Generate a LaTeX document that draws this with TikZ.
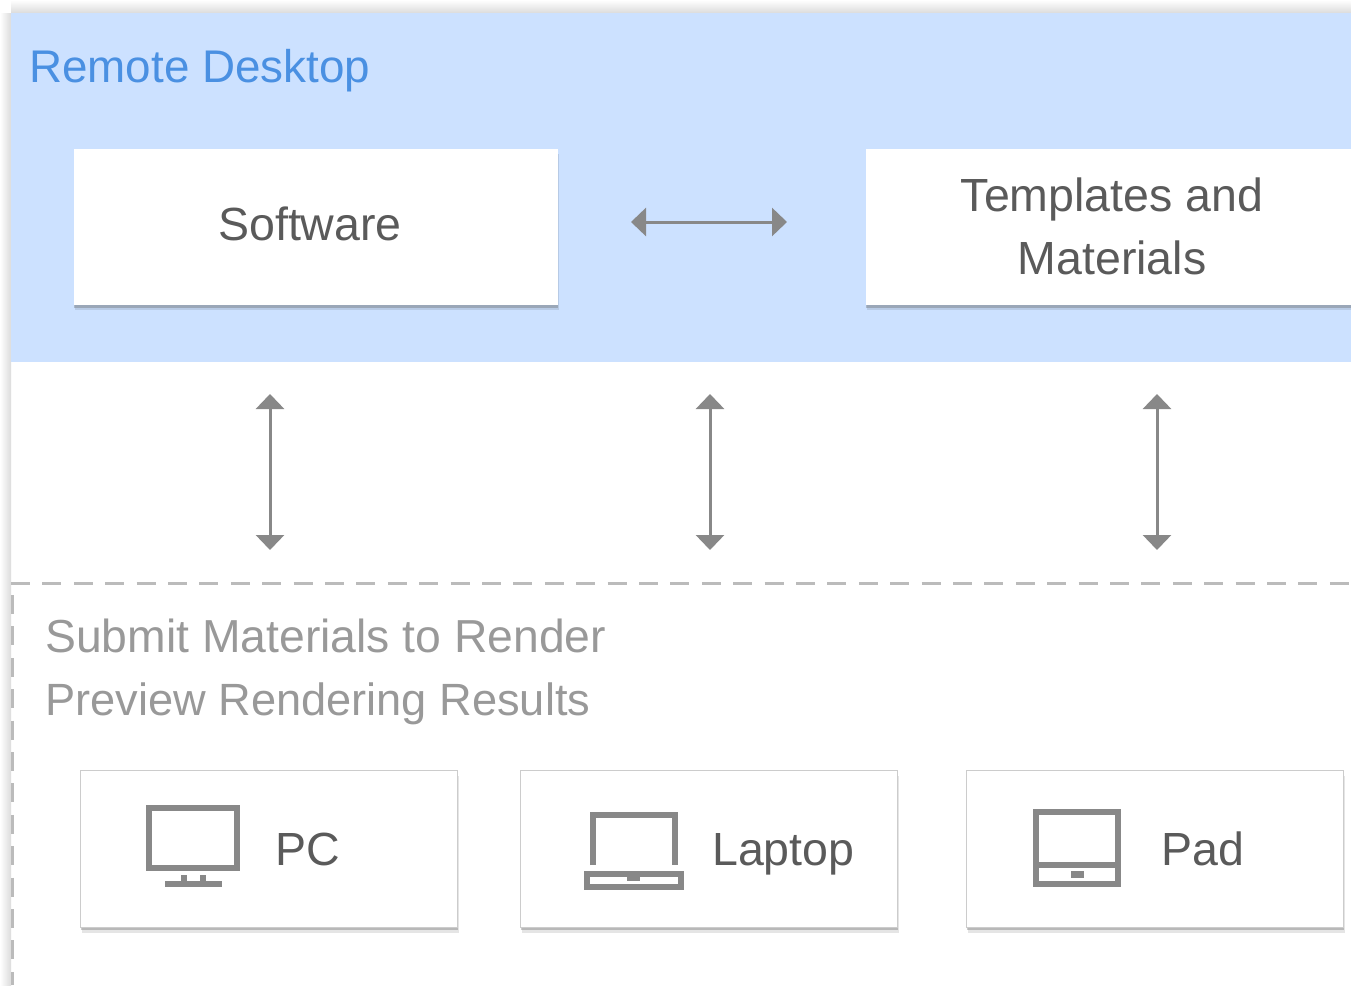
\documentclass[tikz,border=0pt]{standalone}
\usepackage{fontspec}
\setmainfont{Liberation Sans}
\usetikzlibrary{arrows.meta,shadows}
\definecolor{panelblue}{HTML}{CCE1FF}
\definecolor{titleblue}{HTML}{4A90E2}
\definecolor{arrowgray}{HTML}{888888}
\definecolor{dashgray}{HTML}{BBBBBB}
\definecolor{textgray}{HTML}{5A5A5A}
\definecolor{notegray}{HTML}{999999}
\tikzset{
	softshadow/.style={drop shadow={shadow xshift=1pt,shadow yshift=-5pt,opacity=.10,fill=black},drop shadow={shadow xshift=0pt,shadow yshift=-2.5pt,opacity=#1,fill=black!60}},
	bigbox/.style={fill=white,inner sep=0pt,outer sep=0pt,minimum height=156pt,softshadow=.35},
	devbox/.style={draw=black!20,line width=1pt,fill=white,inner sep=0pt,outer sep=0pt,minimum width=377pt,minimum height=157pt,softshadow=.35},
	boxtext/.style={text=textgray,font=\fontsize{46.5}{63}\selectfont,align=center,inner sep=0pt},
	notetext/.style={text=notegray,anchor=base west,inner sep=0pt},
	linkarrow/.style={draw=arrowgray,fill=arrowgray,line width=3pt,{Triangle[width=28pt,length=15pt]}-{Triangle[width=28pt,length=15pt]}},
	dashline/.style={draw=dashgray,line width=3pt,dash pattern=on 19pt off 12.4pt},
	iconline/.style={draw=arrowgray,line width=6pt,fill=none},
	iconfill/.style={fill=arrowgray,draw=none}
}
\begin{document}
\begin{tikzpicture}[x=1pt,y=-1pt]
	\useasboundingbox (0,0) rectangle (1351,985);
	% soft edge of the page
	\shade[left color=white,right color=black!14] (0,13) rectangle (11,985);
	\shade[top color=white,bottom color=black!14] (11,0) rectangle (1351,13);
	\fill[panelblue] (11,13) rectangle (1351,362);
	\node[text=titleblue,font=\fontsize{45.8}{54}\selectfont,anchor=base west,inner sep=0pt] (title) at (29,82) {Remote Desktop};
	% top boxes
	\node[bigbox,minimum width=484pt] (software) at (316,227) {};
	\node[bigbox,minimum width=492pt] (templates) at (1112,227) {};
	\node[boxtext] (softwaretext) at (310,224) {Software};
	\node[boxtext] (templatestext) at (1112,226.5) {Templates and\\Materials};
	\coordinate (linkl) at (631,222);
	\coordinate (linkr) at (787,222);
	\draw[linkarrow] (linkl) -- (linkr);
	% arrows between panel and devices
	\foreach \name/\x in {pc/270,laptop/710,pad/1157}{
		\coordinate (\name up) at (\x,394);
		\coordinate (\name down) at (\x,550);
		\draw[linkarrow] (\name up) -- (\name down);
	}
	% dashed frame
	\coordinate (frametl) at (11,583.5);
	\coordinate (frametr) at (1351,583.5);
	\coordinate (framevt) at (12.5,595);
	\coordinate (framevb) at (12.5,985);
	\draw[dashline] (frametl) -- (frametr);
	\draw[dashline] (framevt) -- (framevb);
	\node[notetext,font=\fontsize{46.3}{63}\selectfont] (submit) at (45,652) {Submit Materials to Render};
	\node[notetext,font=\fontsize{45.2}{63}\selectfont] (preview) at (45,715) {Preview Rendering Results};
	% device boxes
	\node[devbox] (pcbox) at (269,849) {};
	\node[devbox] (laptopbox) at (709,849) {};
	\node[devbox] (padbox) at (1155,849) {};
	\node[boxtext,anchor=base west] (pctext) at (275,865) {PC};
	\node[boxtext,anchor=base west] (laptoptext) at (712,865) {Laptop};
	\node[boxtext,anchor=base west] (padtext) at (1161,865) {Pad};
	% pc icon
	\draw[iconline] (149,808) rectangle (237,868);
	\fill[iconfill] (181,875) rectangle (187,881);
	\fill[iconfill] (200,875) rectangle (206,881);
	\fill[iconfill] (165,881) rectangle (222,887);
	% laptop icon
	\draw[iconline] (593,865) -- (593,815) -- (675,815) -- (675,865);
	\draw[iconline] (587,874) rectangle (681,887);
	\fill[iconfill] (627,877) rectangle (640,881);
	% pad icon
	\draw[iconline] (1036,812) rectangle (1118,884);
	\draw[iconline] (1036,865) -- (1118,865);
	\fill[iconfill] (1071,871) rectangle (1084,878);
\end{tikzpicture}
\end{document}
